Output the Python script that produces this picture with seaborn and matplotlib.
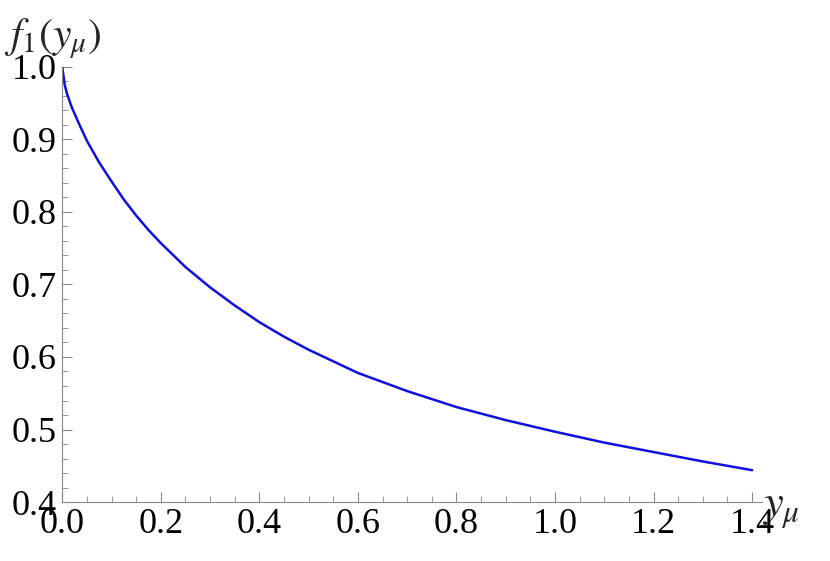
import matplotlib
matplotlib.use("Agg")
import matplotlib.pyplot as plt
import seaborn as sns
from matplotlib.ticker import MultipleLocator, FormatStrFormatter

y_mu = [0.0, 0.005, 0.01, 0.02, 0.035, 0.05, 0.075, 0.1, 0.125, 0.15, 0.175, 0.2, 0.25, 0.3, 0.35, 0.4, 0.45, 0.5, 0.6, 0.7, 0.8, 0.9, 1.0, 1.1, 1.2, 1.3, 1.4]
f1 = [1.0, 0.975, 0.962, 0.943, 0.92, 0.898, 0.868, 0.842, 0.817, 0.795, 0.775, 0.757, 0.724, 0.696, 0.671, 0.648, 0.628, 0.610, 0.578, 0.553, 0.531, 0.513, 0.497, 0.482, 0.469, 0.456, 0.444]

sns.set_style("ticks")
plt.rcParams['font.family'] = ['Liberation Serif', 'DejaVu Serif']
plt.rcParams['mathtext.fontset'] = 'stix'

fig = plt.figure(figsize=(8.3, 5.61), dpi=100)
ax = fig.add_axes([0.075, 0.105, 0.843, 0.776])
sns.lineplot(x=y_mu, y=f1, ax=ax, color='#1010e0', linewidth=1.8)
ax.set_xlim(0, 1.42)
ax.set_ylim(0.4, 1.0)
for s in ['top', 'right']:
    ax.spines[s].set_visible(False)
for s in ['left', 'bottom']:
    ax.spines[s].set_color('#888888')
ax.xaxis.set_major_locator(MultipleLocator(0.2))
ax.xaxis.set_minor_locator(MultipleLocator(0.05))
ax.yaxis.set_major_locator(MultipleLocator(0.1))
ax.yaxis.set_minor_locator(MultipleLocator(0.02))
ax.xaxis.set_major_formatter(FormatStrFormatter('%.1f'))
ax.yaxis.set_major_formatter(FormatStrFormatter('%.1f'))
ax.tick_params(which='both', direction='in', color='#888888', labelsize=26, labelcolor='black', pad=4)
ax.tick_params(which='major', length=7)
ax.tick_params(which='minor', length=4)
fig.text(0.005, 0.915, r'$f_1(y_\mu)$', fontsize=30)
fig.text(0.918, 0.08, r'$y_\mu$', fontsize=32)
fig.savefig('out.png', dpi=100)
